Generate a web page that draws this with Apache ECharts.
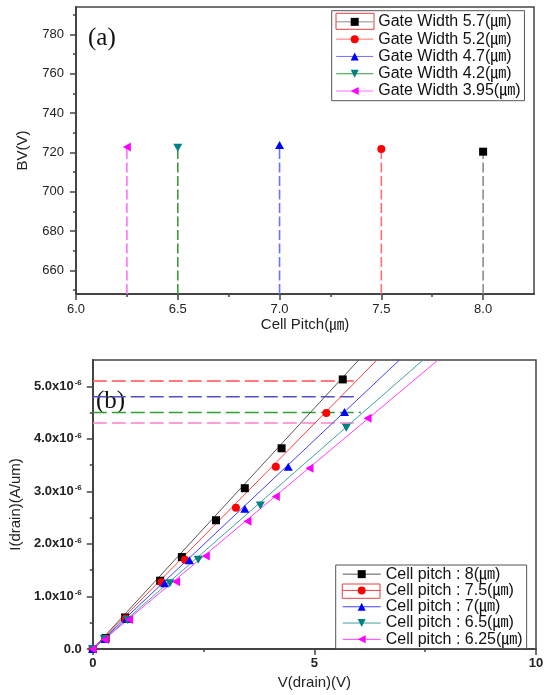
<!DOCTYPE html>
<html>
<head>
<meta charset="utf-8">
<script src="https://cdn.jsdelivr.net/npm/echarts@6/dist/echarts.min.js"></script>
<style>
  html, body { margin: 0; padding: 0; background: #fff; }
  #chart { width: 547px; height: 695px; }
</style>
</head>
<body>
<div id="chart"></div>
<script>
// ---- (a) breakdown voltage vs cell pitch ----
const cellPitch = [8.0, 7.5, 7.0, 6.5, 6.25];
const breakdownV = [720.4, 721.8, 723.8, 722.4, 722.8];
const gateWidth = ['5.7', '5.2', '4.7', '4.2', '3.95'];

const bvXMajor = [6.0, 6.5, 7.0, 7.5, 8.0];
const bvXMinor = [6.25, 6.75, 7.25, 7.75];
const bvYMajor = [660, 680, 700, 720, 740, 760, 780];
const bvYMinor = [650, 670, 690, 710, 730, 750, 770, 790];
const BV_MIN = 648, BV_MAX = 794;

// ---- (b) drain current vs drain voltage (current in units of 1e-6 A/um) ----
const pitchLabels = ['8', '7.5', '7', '6.5', '6.25'];
const vd8   = [0, 0.29, 0.73, 1.52, 2.01, 2.78, 3.43, 4.26, 5.64];
const id8   = [0, 0.21, 0.60, 1.30, 1.75, 2.45, 3.06, 3.82, 5.13];
const vd75  = [0, 0.28, 0.74, 1.55, 2.08, 3.23, 4.13, 5.27];
const id75  = [0, 0.20, 0.58, 1.27, 1.70, 2.69, 3.47, 4.49];
const vd7   = [0, 0.28, 0.76, 1.62, 2.18, 3.43, 4.41, 5.68];
const id7   = [0, 0.19, 0.57, 1.25, 1.69, 2.67, 3.47, 4.51];
const vd65  = [0, 0.26, 0.78, 1.74, 2.38, 3.78, 5.72];
const id65  = [0, 0.19, 0.55, 1.25, 1.70, 2.73, 4.21];
const vd625 = [0, 0.27, 0.82, 1.88, 2.55, 3.49, 4.13, 4.89, 6.20];
const id625 = [0, 0.18, 0.56, 1.28, 1.77, 2.43, 2.90, 3.44, 4.39];
// linear fits through the origin: drain voltage where each fit leaves the top of the plot
const fitTopV = [6.0, 6.41, 6.92, 7.45, 7.79];
// horizontal guide levels and the drain voltage where each guide stops
const guideLevel = [5.1, 4.8, 4.5, 4.3];
const guideEndV  = [5.95, 6.0, 6.05, 6.0];

const ivXMajor = [0, 5, 10];
const ivXMinor = [2.5, 7.5];
const ivYMajor = [0, 1, 2, 3, 4, 5];
const ivYMinor = [0.5, 1.5, 2.5, 3.5, 4.5];
const I_MIN = 0, I_MAX = 5.5;

// ---- styling ----
const SANS = '"Liberation Sans", Arial, "Noto Sans CJK KR", sans-serif';
const UNIT = '(\u339B)';
const AXIS = '#444';
const markerColors = ['#000000', '#ff0000', '#0000ff', '#008080', '#ff00ff'];
const SYM_DOWN = 'path://M0,0 L10,0 L5,9 Z';
const SYM_LEFT = 'path://M0,5 L9,0 L9,10 Z';
const markerShapes = ['rect', 'circle', 'triangle', SYM_DOWN, SYM_LEFT];
const markerSizes = [8, 8, [9, 8], [9, 8], [8, 9]];
const dropColors = ['#8c8c8c', '#ff7070', '#7070ff', '#3a9a3a', '#ff70ff'];
const fitColors = ['#555555', '#ff4040', '#4040ff', '#40a0a0', '#ff40ff'];
const guideColors = ['#ff5050', '#5050c8', '#30a030', '#ff80c8'];

const ivPoints = [[vd8, id8], [vd75, id75], [vd7, id7], [vd65, id65], [vd625, id625]];

const gateNames = gateWidth.map(g => 'Gate Width ' + g + UNIT);
const pitchNames = pitchLabels.map(p => 'Cell pitch : ' + p + UNIT);

function mainAxis(extra) {
  return Object.assign({
    type: 'value',
    splitLine: { show: false },
    axisLine: { show: true, onZero: false, lineStyle: { color: AXIS, width: 2 } }
  }, extra);
}
function minorAxis(extra, ticks) {
  return Object.assign({
    type: 'value',
    splitLine: { show: false },
    axisLine: { show: false, onZero: false },
    axisLabel: { show: false },
    axisTick: { show: true, inside: false, length: 3, customValues: ticks, lineStyle: { color: AXIS, width: 1.5 } }
  }, extra);
}
function majorTicks(vals) {
  return { show: true, inside: false, length: 6, customValues: vals, lineStyle: { color: AXIS, width: 1.5 } };
}

const series = [];

// (a) dashed drop lines from the axis floor up to each marker
cellPitch.forEach((p, i) => {
  series.push({
    type: 'line', name: gateNames[i], xAxisIndex: 0, yAxisIndex: 0,
    data: [{ value: [p, BV_MIN], symbol: 'none' }, { value: [p, breakdownV[i]] }],
    symbol: markerShapes[i], symbolSize: markerSizes[i], showSymbol: true,
    itemStyle: { color: markerColors[i] },
    lineStyle: { color: dropColors[i], width: 1.6, type: [10, 3.5] },
    animation: false, z: 3
  });
});

// (b) fitted lines (listed first so the legend uses their line+marker icon)
fitTopV.forEach((v, i) => {
  series.push({
    type: 'line', name: pitchNames[i], xAxisIndex: 2, yAxisIndex: 2,
    data: [[0, 0], [v, I_MAX]],
    symbol: markerShapes[i], symbolSize: markerSizes[i], showSymbol: false,
    itemStyle: { color: markerColors[i] },
    lineStyle: { color: fitColors[i], width: 1 },
    animation: false, z: 2
  });
});
// (b) measured points
ivPoints.forEach((pts, i) => {
  series.push({
    type: 'scatter', name: pitchNames[i], xAxisIndex: 2, yAxisIndex: 2,
    data: pts[0].map((v, k) => [v, pts[1][k]]),
    symbol: markerShapes[i], symbolSize: markerSizes[i],
    itemStyle: { color: markerColors[i], opacity: 1 },
    animation: false, z: 4
  });
});
// (b) horizontal dashed guides
guideLevel.forEach((lv, i) => {
  series.push({
    type: 'line', xAxisIndex: 2, yAxisIndex: 2,
    data: [[0, lv], [guideEndV[i], lv]],
    symbol: 'none',
    lineStyle: { color: guideColors[i], width: 1.4, type: [14, 5] },
    animation: false, z: 1, silent: true
  });
});

const option = {
  backgroundColor: '#ffffff',
  animation: false,
  grid: [
    { left: 76, top: 7, width: 458, height: 287, show: true, borderColor: AXIS, borderWidth: 1.5 },
    { left: 88, top: 360, width: 448, height: 289, show: true, borderColor: AXIS, borderWidth: 1.5 }
  ],
  xAxis: [
    mainAxis({
      gridIndex: 0, position: 'bottom', min: 6, max: 8.25,
      axisTick: majorTicks(bvXMajor),
      axisLabel: { customValues: bvXMajor, formatter: v => v.toFixed(1), margin: 9,
        fontFamily: SANS, fontSize: 13, color: '#222' },
      name: 'Cell Pitch' + UNIT, nameLocation: 'middle', nameGap: 23,
      nameTextStyle: { fontFamily: SANS, fontSize: 15, color: '#222' }
    }),
    minorAxis({ gridIndex: 0, position: 'bottom', min: 6, max: 8.25 }, bvXMinor),
    mainAxis({
      gridIndex: 1, position: 'bottom', min: 0, max: 10,
      axisTick: majorTicks(ivXMajor),
      axisLabel: { customValues: ivXMajor, margin: 8,
        fontFamily: SANS, fontSize: 13, fontWeight: 'bold', color: '#222' },
      name: 'V(drain)(V)', nameLocation: 'middle', nameGap: 26,
      nameTextStyle: { fontFamily: SANS, fontSize: 15, color: '#222' }
    }),
    minorAxis({ gridIndex: 1, position: 'bottom', min: 0, max: 10 }, ivXMinor)
  ],
  yAxis: [
    mainAxis({
      gridIndex: 0, position: 'left', min: BV_MIN, max: BV_MAX,
      axisTick: majorTicks(bvYMajor),
      axisLabel: { customValues: bvYMajor, margin: 12,
        fontFamily: SANS, fontSize: 13, color: '#222' },
      name: 'BV(V)', nameLocation: 'middle', nameGap: 46,
      nameTextStyle: { fontFamily: SANS, fontSize: 15, color: '#222' }
    }),
    minorAxis({ gridIndex: 0, position: 'left', min: BV_MIN, max: BV_MAX }, bvYMinor),
    mainAxis({
      gridIndex: 1, position: 'left', min: I_MIN, max: I_MAX,
      axisTick: majorTicks(ivYMajor),
      axisLabel: {
        customValues: ivYMajor, margin: 11,
        formatter: v => v === 0 ? '0.0' : v.toFixed(1) + 'x10{sup|-6}',
        fontFamily: SANS, fontSize: 13, fontWeight: 'bold', color: '#222',
        rich: { sup: { fontFamily: SANS, fontSize: 8, color: '#222', verticalAlign: 'top', padding: [0, 0, 7, 1] } }
      },
      name: 'I(drain)(A/um)', nameLocation: 'middle', nameGap: 67,
      nameTextStyle: { fontFamily: SANS, fontSize: 15, color: '#222' }
    }),
    minorAxis({ gridIndex: 1, position: 'left', min: I_MIN, max: I_MAX }, ivYMinor)
  ],
  legend: [
    {
      data: gateNames, orient: 'vertical', left: 331.7, top: 10.7,
      padding: [2.5, 4, 1, 4], itemGap: 0, itemWidth: 37, itemHeight: 10,
      borderColor: '#555', borderWidth: 1,
      lineStyle: { type: 'solid', width: 1 },
      textStyle: { fontFamily: SANS, fontSize: 16, lineHeight: 17.3, color: '#111' },
      selectedMode: false
    },
    {
      data: pitchNames, orient: 'vertical', left: 335.7, top: 565,
      padding: [1, 4, 1, 6.5], itemGap: 0, itemWidth: 38, itemHeight: 10,
      borderColor: '#555', borderWidth: 1,
      lineStyle: { type: 'solid', width: 1 },
      textStyle: { fontFamily: SANS, fontSize: 16, lineHeight: 16.3, color: '#111' },
      selectedMode: false
    }
  ],
  graphic: [
    { type: 'text', left: 88, top: 26, style: { text: '(a)', font: '25px "Liberation Serif", "Times New Roman", serif', fill: '#111' } },
    { type: 'text', left: 96, top: 389, style: { text: '(b)', font: '25px "Liberation Serif", "Times New Roman", serif', fill: '#111' } },
    { type: 'rect', shape: { x: 336, y: 13.3, width: 38, height: 16 }, style: { fill: 'none', stroke: '#e04040', lineWidth: 1 }, z: 100 },
    { type: 'rect', shape: { x: 342.3, y: 584, width: 37.7, height: 14.3 }, style: { fill: 'none', stroke: '#e04040', lineWidth: 1 }, z: 100 }
  ],
  series: series
};

const chart = echarts.init(document.getElementById('chart'), null, { renderer: 'canvas' });
chart.setOption(option);
</script>
</body>
</html>
